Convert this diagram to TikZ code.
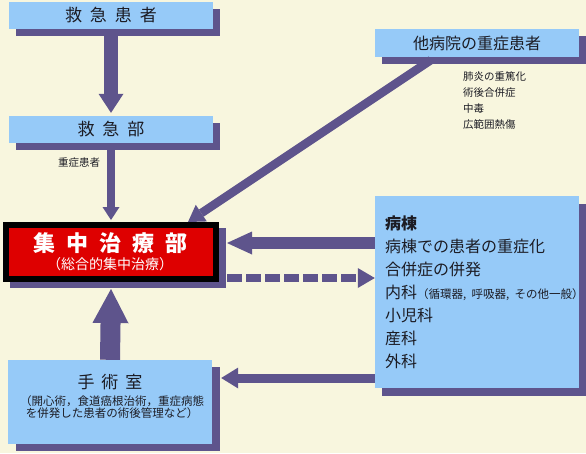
\documentclass[tikz,border=0pt]{standalone}
\usepackage{fontspec}
\setmainfont{Noto Sans CJK JP}
\usetikzlibrary{arrows.meta}
\definecolor{cream}{RGB}{248,246,222}
\definecolor{boxblue}{RGB}{150,202,248}
\definecolor{purp}{RGB}{94,84,140}
\definecolor{icured}{RGB}{222,0,0}
\definecolor{ink}{RGB}{28,28,36}
\pgfdeclarelayer{bglayer}
\pgfdeclarelayer{shadowlayer}
\pgfsetlayers{bglayer,shadowlayer,main}
\newcommand\dropshade[3]{%
  \begin{pgfonlayer}{shadowlayer}
    \fill[purp] ([shift={(#2,#3)}]#1.south west) rectangle ([shift={(#2,#3)}]#1.north east);
  \end{pgfonlayer}}
\begin{document}
\begin{tikzpicture}[x=1pt,y=-1pt,
  bluebox/.style={fill=boxblue, inner sep=0pt, text=ink},
  txt/.style={inner sep=0pt, text=ink},
  fatarrow/.style n args={3}{draw=purp, line width=#1,
    -{Triangle[length=#2,width=#3,line width=0pt]}}]
\begin{pgfonlayer}{bglayer}
  \fill[cream] (0,0) rectangle (586,453);
\end{pgfonlayer}
\useasboundingbox (0,0) rectangle (586,453);

% boxes
\node[bluebox, minimum width=204pt, minimum height=27pt, font=\fontsize{17}{17}\selectfont]
  (b1) at (111,15.5) {救\hspace{8pt}急\hspace{8pt}患\hspace{8pt}者};
\node[bluebox, minimum width=204pt, minimum height=27pt, font=\fontsize{17}{17}\selectfont]
  (b2) at (111,129.5) {救\hspace{8pt}急\hspace{8pt}部};
\node[txt, font=\fontsize{10.5}{10.5}\selectfont, anchor=west] (b2l) at (58,163) {重症患者};

\node[draw=black, line width=6pt, fill=icured, minimum width=210pt, minimum height=54pt, inner sep=0pt]
  (icu) at (111,252) {};
\node[inner sep=0pt, text=white, font=\fontsize{22}{22}\selectfont\bfseries]
  (icut) at (110,243) {集\hspace{11pt}中\hspace{11pt}治\hspace{11pt}療\hspace{11pt}部};
\node[inner sep=0pt, text=white, font=\fontsize{14}{14}\selectfont]
  (icus) at (110,264) {（総合的集中治療）};

\node[bluebox, minimum width=204pt, minimum height=84pt] (sur) at (110,402) {};
\node[txt, font=\fontsize{17}{17}\selectfont] (surt) at (110,382) {手\hspace{7pt}術\hspace{7pt}室};
\node[txt, font=\fontsize{11.5}{12.5}\selectfont, align=center] (surs) at (112,407)
  {（開心術，食道癌根治術，重症病態\\を併発した患者の術後管理など）};

\node[bluebox, minimum width=204pt, minimum height=28pt, font=\fontsize{16}{16}\selectfont]
  (oth) at (477,43) {他病院の重症患者};
\node[txt, font=\fontsize{10.5}{16}\selectfont, align=left, anchor=west] (othl) at (463,101)
  {肺炎の重篤化\\術後合併症\\中毒\\広範囲熱傷};

\node[bluebox, minimum width=204pt, minimum height=192pt, text width=184pt, align=left,
  font=\fontsize{16}{23}\selectfont] (ward) at (477,292)
  {{\bfseries 病棟}\\病棟での患者の重症化\\合併症の併発\\\mbox{内科{\fontsize{11.5}{23}\selectfont （循環器, 呼吸器, その他一般）}}\\小児科\\産科\\外科};

% shadows
\dropshade{b1}{7pt}{-7pt}
\dropshade{b2}{7pt}{-7pt}
\dropshade{icu}{7pt}{-6pt}
\dropshade{sur}{8pt}{-7pt}
\dropshade{oth}{7pt}{-7pt}
\dropshade{ward}{7pt}{-8pt}

% connectors
\draw[fatarrow={14pt}{19pt}{25pt}] (b1.south) -- ([yshift=3pt]b2.north);
\draw[fatarrow={8pt}{13pt}{17pt}] (b2.south) -- ([yshift=2pt]icu.north);
\draw[fatarrow={20pt}{34pt}{36pt}] (sur.north) -- ([yshift=-7pt]icu.south);
\draw[fatarrow={12pt}{25pt}{23pt}] ([yshift=49pt]ward.west) -- ([xshift=8pt,yshift=9pt]icu.east);
\draw[fatarrow={8pt}{17pt}{20pt}, dash pattern=on 15pt off 4pt]
  ([xshift=8pt,yshift=-26pt]icu.east) -- ([yshift=14pt]ward.west);
\draw[fatarrow={9pt}{17pt}{21pt}] ([yshift=-86pt]ward.west) -- ([xshift=9pt,yshift=24pt]sur.east);
\coordinate (dstart) at (431,60);
\draw[fatarrow={8.5pt}{16pt}{20pt}] (dstart) -- ([xshift=77pt]icu.north);
\end{tikzpicture}
\end{document}
